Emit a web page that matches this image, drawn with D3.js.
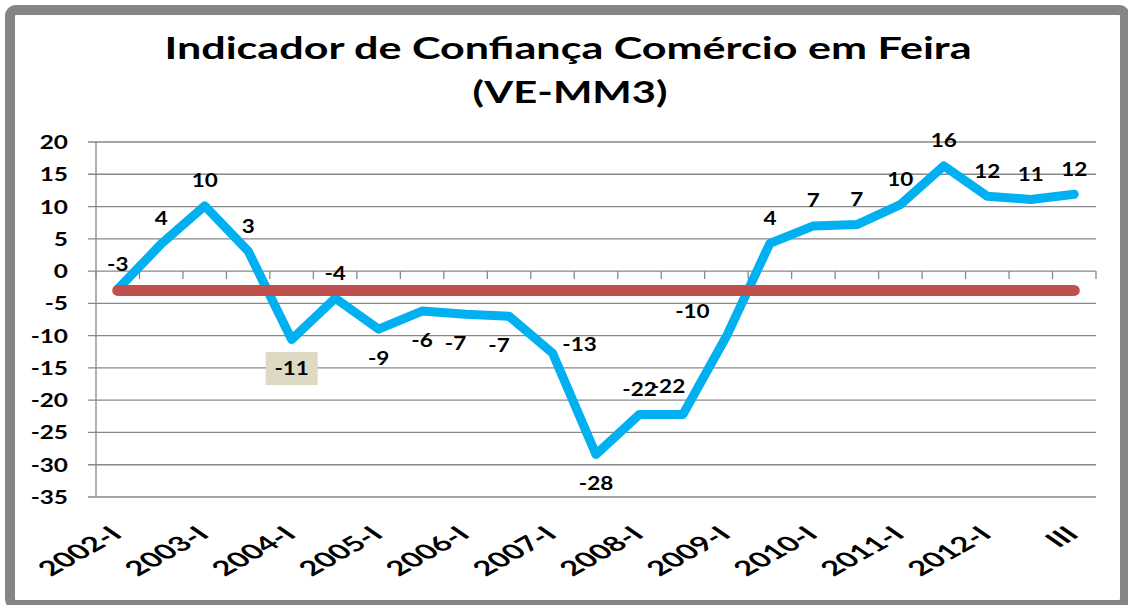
<!DOCTYPE html>
<html>
<head>
<meta charset="utf-8">
<script src="https://cdn.jsdelivr.net/npm/d3@7"></script>
<style>
  body { margin: 0; background: #fff; }
  svg { display: block; }
</style>
</head>
<body>
<div id="chart"></div>
<script>
// data (semesters, last one is "III")
const categories = ["2002-I","II","2003-I","II","2004-I","II","2005-I","II","2006-I","II",
                    "2007-I","II","2008-I","II","2009-I","II","2010-I","II","2011-I","II",
                    "2012-I","II","III"]
const indicador = [-2.8, 4.2, 10.1, 3.1, -10.6, -4.2, -9.0, -6.2, -6.7, -7.0,
                   -12.7, -28.4, -22.2, -22.2, -10.1, 4.3, 7.0, 7.2, 10.3, 16.3,
                   11.6, 11.1, 11.9]
const mediaValue = -3
const yTicks = [20, 15, 10, 5, 0, -5, -10, -15, -20, -25, -30, -35]
// where each data label sits relative to its point
const labelPlacement = ["above","above","above","above","below","above","below","below","belowLeft","belowLeft",
                        "right","below","above","aboveLeft","left","above","above","above","above","above",
                        "above","above","above"]
const highlightIndex = 4

const WIDTH = 1128, HEIGHT = 605
const M = { LEFT: 96, RIGHT: 1096, TOP: 142, BOTTOM: 497 }
const SX = 1.25   // the original chart is stretched sideways
const FONT = "Lato, 'Open Sans', sans-serif"

const offsets = {
  above: [0, -25], below: [0, 29], belowLeft: [-10, 29],
  aboveLeft: [-15, -28], right: [27, -9], left: [-34, -25]
}

const svg = d3.select("#chart").append("svg")
    .attr("width", WIDTH)
    .attr("height", HEIGHT)

svg.append("rect").attr("width", WIDTH).attr("height", HEIGHT).attr("fill", "#fff")

// outer frame
svg.append("rect")
    .attr("x", 10).attr("y", 10)
    .attr("width", 1115).attr("height", 595)
    .attr("rx", 6)
    .attr("fill", "#fff")
    .attr("stroke", "#858585")
    .attr("stroke-width", 10)

const xScale = d3.scaleBand()
    .domain(d3.range(categories.length))
    .range([M.LEFT, M.RIGHT])
const cx = i => xScale(i) + xScale.bandwidth() / 2
const yScale = d3.scaleLinear()
    .domain([-35, 20])
    .range([M.BOTTOM, M.TOP])

function stretchText(g, x, y, s) {
  return g.append("text")
      .attr("transform", "translate(" + x + "," + y + ") scale(" + SX + ",1)")
      .text(s)
      .style("font-family", FONT)
      .style("font-weight", "bold")
}

// title
svg.append("text")
    .attr("x", 568).attr("y", 59)
    .attr("text-anchor", "middle")
    .attr("textLength", 807).attr("lengthAdjust", "spacingAndGlyphs")
    .style("font-family", FONT).style("font-weight", "bold").style("font-size", "31px")
    .text("Indicador de Confiança Comércio em Feira")
svg.append("text")
    .attr("x", 570).attr("y", 103)
    .attr("text-anchor", "middle")
    .attr("textLength", 195).attr("lengthAdjust", "spacingAndGlyphs")
    .style("font-family", FONT).style("font-weight", "bold").style("font-size", "31px")
    .text("(VE-MM3)")

// gridlines + y axis
const grid = svg.append("g")
grid.selectAll("line.grid")
    .data(yTicks)
    .enter().append("line")
    .attr("class", "grid")
    .attr("x1", M.LEFT - 8).attr("x2", M.RIGHT)
    .attr("y1", d => yScale(d)).attr("y2", d => yScale(d))
    .attr("stroke", "#888")
    .attr("stroke-width", 1.3)
grid.append("line")
    .attr("x1", M.LEFT).attr("x2", M.LEFT)
    .attr("y1", yScale(20)).attr("y2", yScale(-35))
    .attr("stroke", "#888").attr("stroke-width", 1.3)

// category ticks on the zero line
grid.selectAll("line.xtick")
    .data(d3.range(categories.length + 1))
    .enter().append("line")
    .attr("class", "xtick")
    .attr("x1", i => M.LEFT + i * xScale.bandwidth())
    .attr("x2", i => M.LEFT + i * xScale.bandwidth())
    .attr("y1", yScale(0)).attr("y2", yScale(0) + 8)
    .attr("stroke", "#888").attr("stroke-width", 1.3)

yTicks.forEach(t => {
  stretchText(svg, 68, yScale(t), String(t))
      .attr("text-anchor", "end")
      .attr("dy", "0.36em")
      .style("font-size", "19.5px")
})

// category labels, every second one (rotated, then stretched sideways)
categories.forEach((c, i) => {
  if (i % 2 != 0) return
  svg.append("text")
      .attr("transform", "translate(" + (cx(i) + 6) + ",536) scale(1.6,1) rotate(-42)")
      .attr("text-anchor", "end")
      .text(c)
      .style("font-family", FONT)
      .style("font-weight", "bold")
      .style("font-size", "20.5px")
})

// series
const line = d3.line()
    .x((d, i) => cx(i))
    .y(d => yScale(d))

svg.append("path")
    .datum(indicador)
    .attr("d", line)
    .attr("fill", "none")
    .attr("stroke", "#00B0F0")
    .attr("stroke-width", 9)
    .attr("stroke-linejoin", "round")
    .attr("stroke-linecap", "round")

svg.append("line")
    .attr("x1", cx(0)).attr("x2", cx(categories.length - 1))
    .attr("y1", yScale(mediaValue)).attr("y2", yScale(mediaValue))
    .attr("stroke", "#C0504D")
    .attr("stroke-width", 11)
    .attr("stroke-linecap", "round")

// data labels
indicador.forEach((v, i) => {
  const off = offsets[labelPlacement[i]]
  const lx = cx(i) + off[0], ly = yScale(v) + off[1]
  if (i == highlightIndex) {
    svg.append("rect")
        .attr("x", lx - 26).attr("y", ly - 16.5)
        .attr("width", 52).attr("height", 33)
        .attr("fill", "#DDD9C3")
  }
  stretchText(svg, lx, ly, String(Math.round(v)))
      .attr("text-anchor", "middle")
      .attr("dy", "0.36em")
      .style("font-size", "18px")
})
</script>
</body>
</html>
